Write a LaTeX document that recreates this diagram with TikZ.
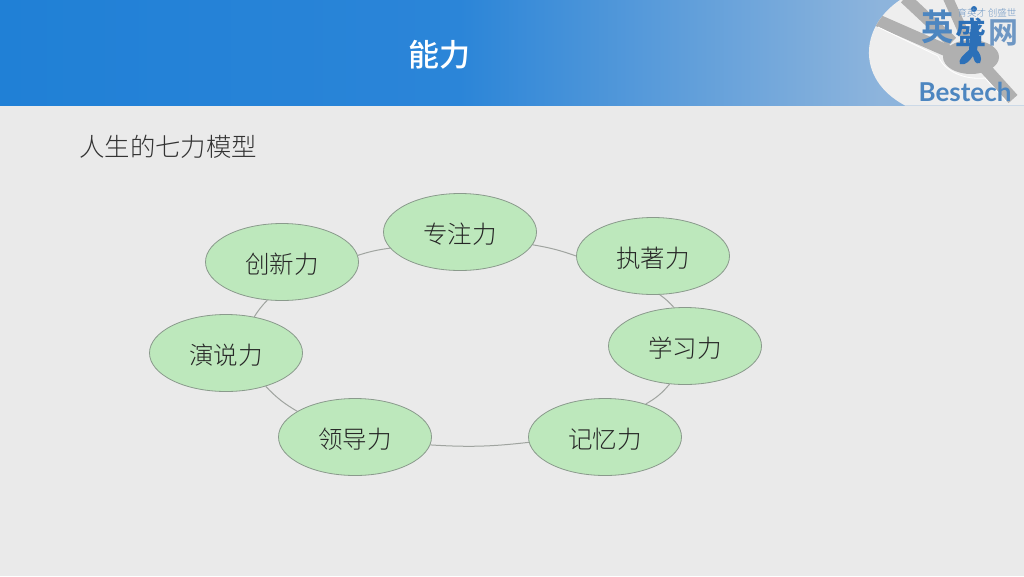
\documentclass[tikz,border=0pt]{standalone}
\usepackage{fontspec}
\setmainfont{Noto Sans CJK SC}[UprightFont=* Light,BoldFont=* Medium]
\newfontfamily\cjkbold{Noto Sans CJK SC Bold}
\newfontfamily\latinb{Lato}
\pgfdeclarelayer{back}
\pgfdeclarelayer{mid}
\pgfsetlayers{back,mid,main}
\definecolor{pagebg}{HTML}{EAEAEA}
\definecolor{bannerL}{HTML}{2080D6}
\definecolor{bannerM}{HTML}{2B85D8}
\definecolor{bannerR}{HTML}{8DB4DC}
\definecolor{oval}{HTML}{BDE8BC}
\definecolor{ovalline}{HTML}{8A9A8C}
\definecolor{conn}{HTML}{A0A4A0}
\definecolor{road}{HTML}{B0B0B0}
\definecolor{logoA}{HTML}{4D86C0}
\definecolor{logoB}{HTML}{2C70B8}
\definecolor{logoC}{HTML}{6E97C4}
\tikzset{
  x=1pt,y=-1pt,
  forceoval/.style={ellipse,draw=ovalline,line width=0.8pt,fill=oval,minimum width=153pt,minimum height=77pt,inner sep=0pt,text=black!85,text height=24pt,text depth=1.5pt,font=\fontsize{24.5}{24.5}\selectfont},
  link/.style={draw=conn,line width=1pt},
}
\usetikzlibrary{shapes.geometric}
\begin{document}
\begin{tikzpicture}
\useasboundingbox (0,0) rectangle (1024,576);
\begin{pgfonlayer}{back}
\fill[pagebg] (0,0) rectangle (1024,576);
\fill[left color=bannerL,right color=bannerM] (0,0) rectangle (460,105.5);
\fill[left color=bannerM,right color=bannerR] (459.5,0) rectangle (880,105.5);
\fill[bannerR] (879.5,0) rectangle (1024,105.5);
% logo disc
\fill[pagebg!80!white] (905,105.5) .. controls (880,92) and (868,72) .. (869,50) .. controls (870,30) and (882,12) .. (900,0) -- (1024,0) -- (1024,105.5) -- cycle;
% roads
\begin{scope}
\clip (905,105.5) .. controls (880,92) and (868,72) .. (869,50) .. controls (870,30) and (882,12) .. (900,0) -- (1024,0) -- (1024,105.5) -- cycle;
\draw[road,line width=12pt] (877,20) -- (950,52);
\draw[road,line width=12pt] (905,-2) -- (952,42);
\draw[road,line width=10pt] (948,-2) -- (966,38);
\draw[road,line width=12pt] (985,68) -- (1013,99);
\fill[road] (971,57) ellipse (28 and 17);
\draw[white,line width=0.8pt] (878,27) -- (938,56) .. controls (945,72) and (965,80) .. (985,78) -- (1006,101);
\end{scope}
\end{pgfonlayer}
\node[anchor=center,text=white,font=\bfseries\fontsize{31}{31}\selectfont] (title) at (439,55) {能力};
\node[anchor=west,text=black!80,inner sep=0pt,font=\fontsize{25.4}{25.4}\selectfont] (sub) at (79,147) {人生的七力模型};
\node[forceoval] (a) at (460,232) {专注力};
\node[forceoval] (b) at (653,256) {执著力};
\node[forceoval] (c) at (685,346) {学习力};
\node[forceoval] (d) at (605,437) {记忆力};
\node[forceoval] (e) at (355,437) {领导力};
\node[forceoval] (f) at (226,353) {演说力};
\node[forceoval] (g) at (282,262) {创新力};
\begin{pgfonlayer}{mid}
\draw[link] (a.-10) to[bend left=5] (b.180);
\draw[link] (b.-80) to[bend left=6] (c.106);
\draw[link] (c.-112) to[bend left=10] (d.39);
\draw[link] (d.184) to[bend left=5] (e.-6);
\draw[link] (e.156) to[bend left=8] (f.-40);
\draw[link] (f.52) to[bend left=6] (g.-111);
\draw[link] (g.5) to[bend left=5] (a.193);
\end{pgfonlayer}
% logo figure and text
\fill[logoB] (971,22) -- (978,22) -- (979,36) -- (977,50) .. controls (979,52) and (983,58) .. (980,63) .. controls (975,65) and (974,60) .. (973,56) .. controls (970,60) and (966,66) .. (960,64) .. controls (958,60) and (962,56) .. (969,50) -- cycle;
\fill[logoB] (974,9) circle (3);
\node[text=logoA,font=\cjkbold\fontsize{36}{36}\selectfont,inner sep=0pt,xscale=0.9] (ying) at (938,27) {英};
\node[text=logoB,font=\cjkbold\fontsize{31}{31}\selectfont,inner sep=0pt] (sheng) at (971,32) {盛};
\node[text=logoC,font=\cjkbold\fontsize{30}{30}\selectfont,inner sep=0pt] (wang) at (1003,33) {网};
\node[text=logoC,font=\fontsize{9.5}{9.5}\selectfont,inner sep=0pt] (motto) at (987,13) {育英才\,创盛世};
\node[text=logoA,font=\latinb\bfseries\fontsize{26}{26}\selectfont,inner sep=0pt] (brand) at (965,92) {Bestech};
\end{tikzpicture}
\end{document}
